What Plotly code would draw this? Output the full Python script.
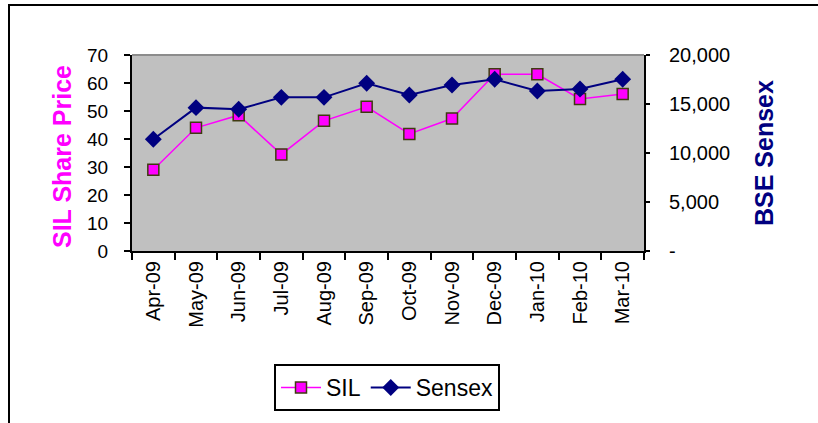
import plotly.graph_objects as go

months = ["Apr-09", "May-09", "Jun-09", "Jul-09", "Aug-09", "Sep-09",
          "Oct-09", "Nov-09", "Dec-09", "Jan-10", "Feb-10", "Mar-10"]
sil = [29, 44, 48.5, 34.5, 46.5, 51.5, 41.8, 47.3, 63.1, 63.1, 54.3, 56.1]
sensex = [11400, 14630, 14460, 15680, 15680, 17110, 15920, 16940, 17520, 16330, 16530, 17520]

left_ticks = [0, 10, 20, 30, 40, 50, 60, 70]
right_ticks = [0, 5000, 10000, 15000, 20000]
right_ticktext = ["-", "5,000", "10,000", "15,000", "20,000"]

W, H = 818, 423
L, R, T, B = 132, 644, 55, 251

def px(x):
    return (x - L) / (R - L)

def py(y):
    return (B - y) / (B - T)

fig = go.Figure()
fig.add_trace(go.Scatter(
    x=months, y=sil, name="SIL", mode="lines+markers",
    line=dict(color="#FF00FF", width=1.5),
    marker=dict(symbol="square", size=11, color="#FF00FF",
                line=dict(color="#3F3A10", width=1.5)),
    yaxis="y"))
fig.add_trace(go.Scatter(
    x=months, y=sensex, name="Sensex", mode="lines+markers",
    line=dict(color="#000080", width=2),
    marker=dict(symbol="diamond", size=13, color="#000080"),
    yaxis="y2"))

font = "Arial, Liberation Sans, sans-serif"

fig.update_layout(
    width=W, height=H,
    margin=dict(l=L, r=W - R, t=T, b=H - B),
    paper_bgcolor="white", plot_bgcolor="#C0C0C0",
    font=dict(family=font, size=19, color="black"),
    showlegend=True,
    legend=dict(orientation="h", x=px(387), xanchor="center", y=py(364), yanchor="top",
                bordercolor="black", borderwidth=2, bgcolor="white",
                font=dict(size=23), itemwidth=40, tracegroupgap=0),
    xaxis=dict(type="category", range=[-0.5, 11.5], tickangle=-90,
               showline=True, linecolor="black", linewidth=2,
               ticks="outside", tickson="boundaries", ticklen=7, tickcolor="black",
               tickwidth=2, showgrid=False, tickfont=dict(size=20), fixedrange=True),
    yaxis=dict(range=[0, 70], tickvals=left_ticks, showline=True, linecolor="black",
               linewidth=2, ticks="outside", ticklen=6, tickwidth=2, tickcolor="black",
               showgrid=False, zeroline=False, tickfont=dict(size=19),
               ticklabelstandoff=12),
    yaxis2=dict(range=[0, 20000], tickvals=right_ticks, ticktext=right_ticktext,
                overlaying="y", side="right", showline=True, linecolor="black",
                linewidth=2, ticks="outside", ticklen=4, tickwidth=2, tickcolor="black",
                showgrid=False, zeroline=False, tickfont=dict(size=20),
                ticklabelstandoff=15),
    shapes=[
        dict(type="line", xref="paper", yref="paper", x0=0, x1=1, y0=1, y1=1,
             line=dict(color="#8C8C8C", width=2)),
        dict(type="rect", xref="paper", yref="paper", x0=px(9), x1=px(840),
             y0=py(5), y1=py(450), line=dict(color="black", width=2),
             fillcolor="rgba(0,0,0,0)", layer="below"),
    ],
    annotations=[
        dict(text="<b>SIL Share Price</b>", xref="paper", yref="paper",
             x=px(62), y=py(157), textangle=-90, showarrow=False,
             xanchor="center", yanchor="middle",
             font=dict(size=25, color="#FF00FF", family=font)),
        dict(text="<b>BSE Sensex</b>", xref="paper", yref="paper",
             x=px(764), y=py(153), textangle=-90, showarrow=False,
             xanchor="center", yanchor="middle",
             font=dict(size=25, color="#000080", family=font)),
    ],
)

fig.write_html("out.html", config={"displayModeBar": False},
               post_script="document.body.style.margin='0';document.body.style.overflow='hidden';")
